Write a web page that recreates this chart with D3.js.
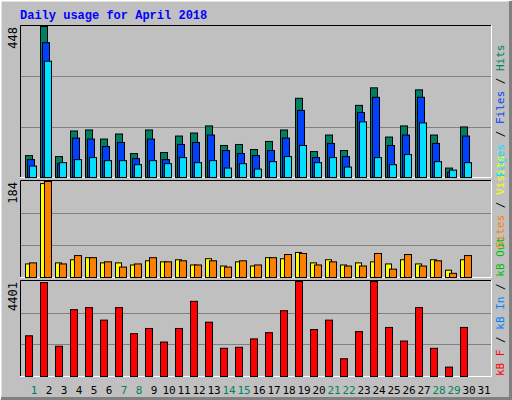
<!DOCTYPE html>
<html><head><meta charset="utf-8">
<script src="https://cdn.jsdelivr.net/npm/d3@7"></script>
<style>body{margin:0;background:#fff}</style>
</head><body><div id="display"></div>
<script>
const days = d3.range(1, 31);
const weekend = [1, 7, 8, 14, 15, 21, 22, 28, 29];
const hits  = [65,448,62,138,141,114,129,71,141,74,123,132,153,95,98,83,107,141,235,77,126,80,214,266,120,153,260,126,28,150];
const files = [53,400,41,117,114,92,104,56,114,53,98,104,126,80,71,65,80,117,199,59,101,62,193,238,95,126,238,101,16,123];
const pages = [34,345,44,53,59,50,50,38,50,41,59,44,50,28,41,25,47,62,95,44,59,31,165,59,38,68,162,47,22,44];
const visits = [26,180,28,34,38,28,28,24,32,30,34,24,36,22,30,22,38,36,48,28,34,24,28,30,26,34,26,34,14,34];
const sites  = [28,184,26,42,38,30,20,26,38,30,32,24,32,20,32,24,38,44,46,24,30,22,22,46,16,44,22,32,8,42];
const kbytes = [1886,4353,1402,3095,3192,2611,3192,1983,2225,1596,2225,3482,2515,1306,1354,1741,2031,3047,4401,2176,2611,822,2080,4401,2273,1644,3192,1306,435,2273];

const svg = d3.select('#display').append('svg')
    .attr('width', 512).attr('height', 400);

svg.append('rect').attr('width', 512).attr('height', 400).attr('fill', '#c0c0c0');
// outer bevel
svg.append('path').attr('d', 'M0.5,399.5 V0.5 H511.5').attr('stroke', '#fff').attr('fill', 'none').attr('stroke-width', 2);
svg.append('path').attr('d', 'M1,398.5 H510.5 V1').attr('stroke', '#808080').attr('fill', 'none').attr('stroke-width', 3);

svg.append('text').attr('x', 20).attr('y', 19)
    .attr('font-family', 'Liberation Mono').attr('font-weight', 'bold').attr('font-size', 12)
    .attr('fill', '#0000ff').text('Daily usage for April 2018');

const x = d3.scaleLinear().domain([1, 31]).range([25, 475]);
const L = 20, R = 491;

function panel(top, bottom, max){
    const y = d3.scaleLinear().domain([0, max]).range([bottom, top + 1]);
    const g = svg.append('g');
    g.append('rect').attr('x', L).attr('y', top).attr('width', R - L).attr('height', bottom - top)
        .attr('fill', '#c0c0c0');
    [1/3, 2/3].forEach(f => {
        g.append('line').attr('x1', L).attr('x2', R)
            .attr('y1', Math.round(y(max * f)) + 0.5).attr('y2', Math.round(y(max * f)) + 0.5)
            .attr('stroke', '#808080');
    });
    g.append('path').attr('d', `M${L + 0.5},${bottom} V${top + 0.5} H${R}`).attr('stroke', '#000').attr('fill', 'none');
    g.append('path').attr('d', `M${L},${bottom + 0.5} H${R + 0.5} V${top}`).attr('stroke', '#fff').attr('fill', 'none');
    svg.append('text').attr('transform', `translate(17,${top + 2}) rotate(-90)`)
        .attr('text-anchor', 'end').attr('font-family', 'DejaVu Sans Mono').attr('font-size', 12)
        .text(max);
    return {g, y};
}

function bars(p, data, off, w, color){
    p.g.selectAll(null).data(data).enter().append('rect')
        .attr('x', (d, i) => x(days[i]) + off + 0.5)
        .attr('y', d => p.y(d) + 0.5)
        .attr('width', w)
        .attr('height', d => p.y(0) - p.y(d))
        .attr('fill', color).attr('stroke', '#000');
}

const p1 = panel(25, 177, 448);
bars(p1, hits, 0, 7, '#008060');
bars(p1, files, 2, 7, '#0040ff');
bars(p1, pages, 4, 7, '#00e0ff');

const p2 = panel(180, 277, 184);
bars(p2, visits, 0, 6, '#ffff00');
bars(p2, sites, 4, 7, '#ff8000');

const p3 = panel(280, 376, 4401);
bars(p3, kbytes, 0, 7, '#ff0000');

// day labels
svg.selectAll(null).data(d3.range(1, 32)).enter().append('text')
    .attr('x', d => x(d) + 9).attr('y', 394)
    .attr('text-anchor', 'middle').attr('font-family', 'DejaVu Sans Mono').attr('font-size', 11)
    .attr('fill', d => weekend.includes(d) ? '#008060' : '#000')
    .text(d => d);

function sideLabel(yStart, parts){
    const t = svg.append('text').attr('transform', `translate(504,${yStart}) rotate(-90)`)
        .attr('font-family', 'DejaVu Sans Mono').attr('font-size', 11);
    parts.forEach(([s, c]) => t.append('tspan').attr('fill', c).text(s));
}
sideLabel(177, [['Pages', '#00e0ff'], [' / ', '#000'], ['Files', '#0040ff'], [' / ', '#000'], ['Hits', '#008060']]);
sideLabel(248, [['Sites', '#ff8000'], [' / ', '#000'], ['Visits', '#ffff00']]);
sideLabel(376, [['kB F', '#ff0000'], [' / ', '#000'], ['kB In', '#0080ff'], [' / ', '#000'], ['kB Out', '#00c000']]);
</script>
</body></html>
